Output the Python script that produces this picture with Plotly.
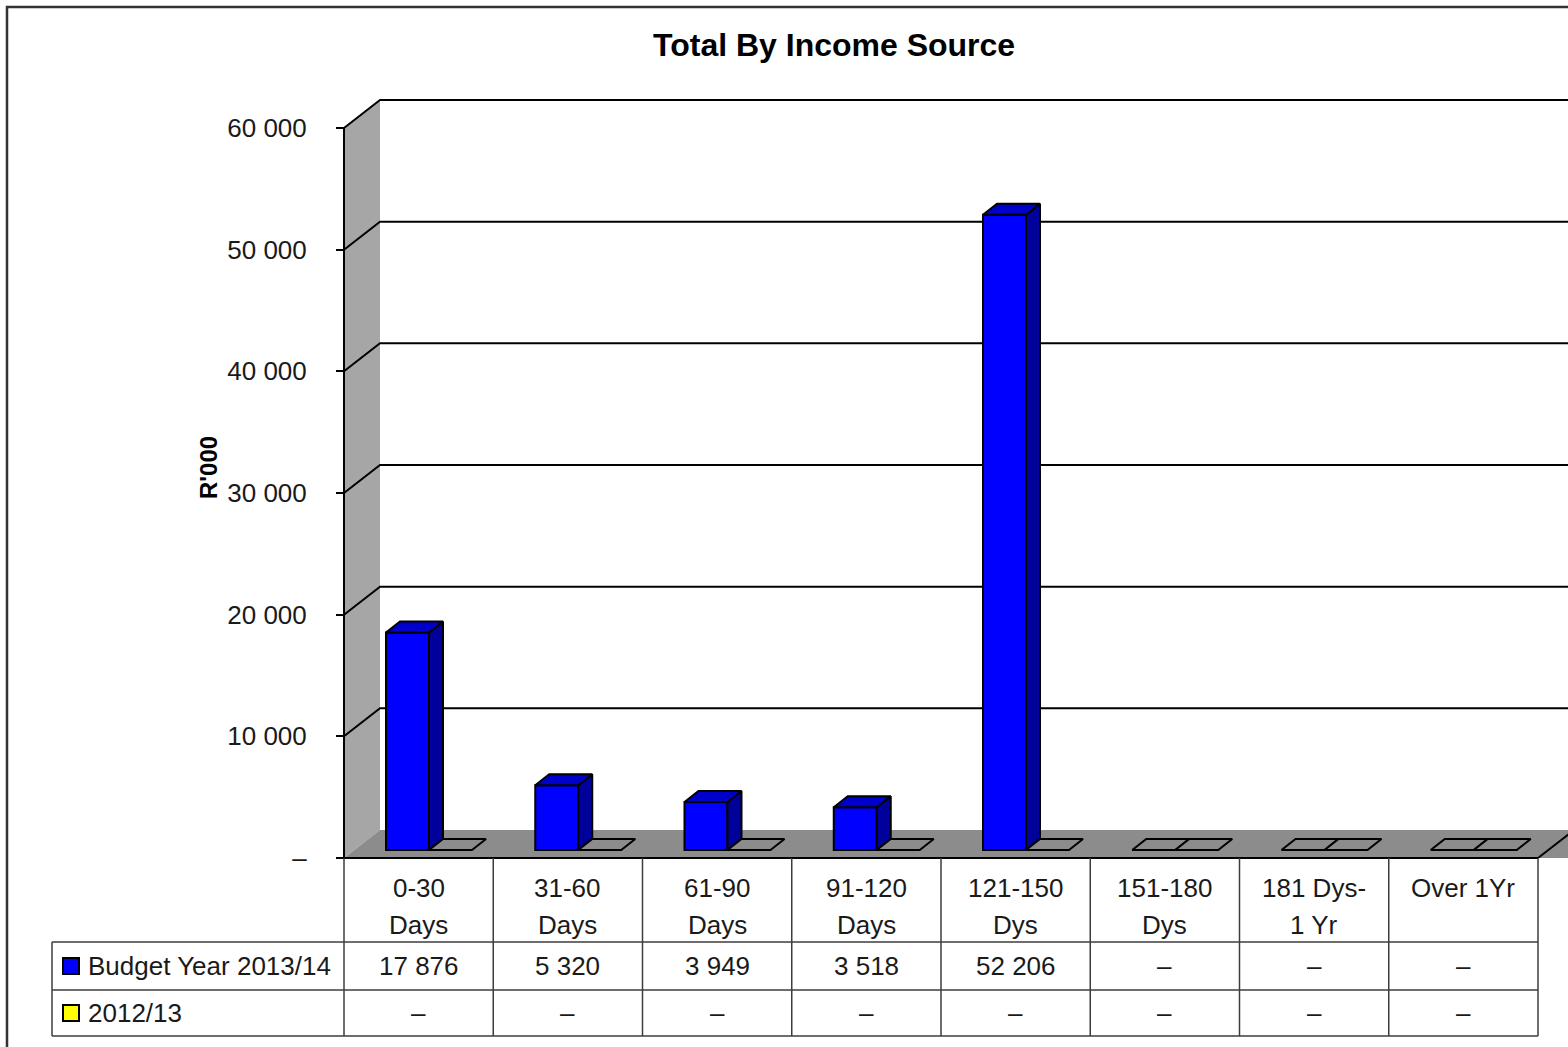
import plotly.graph_objects as go

# ---- data -------------------------------------------------------------
categories = ["0-30\nDays", "31-60\nDays", "61-90\nDays", "91-120\nDays",
              "121-150\nDys", "151-180\nDys", "181 Dys-\n1 Yr", "Over 1Yr"]
series_names = ["Budget Year 2013/14", "2012/13"]
budget_2013_14 = [17876, 5320, 3949, 3518, 52206, 0, 0, 0]
prior_2012_13 = [0, 0, 0, 0, 0, 0, 0, 0]
y_ticks = [0, 10000, 20000, 30000, 40000, 50000, 60000]
y_tick_labels = ["–", "10 000", "20 000", "30 000", "40 000", "50 000", "60 000"]

# ---- geometry (pixels) ------------------------------------------------
W, H = 1568, 1047
V_FIT = 1047 / 1044     # small vertical correction of the layout grid
ORIGIN_X = 344          # front left corner of the floor
FLOOR_Y = 858           # front edge of the floor
CAT_PX = 149.25         # width of one category column
PX_PER_UNIT = 730 / 60000
DEPTH_DX, DEPTH_DY = 36, 28   # perspective offset of the back wall
BAR_W = 43
BAR_OFFSETS = [42, 85]  # left edge of each series' bar inside a column
BAR_LIFT = 8            # bars stand slightly back on the floor
TOP_DX, TOP_DY = 14, 11 # bar depth

FONT = "Liberation Sans, Arial, sans-serif"
TXT = "#1a1a1a"
GRID = "black"
TABLE_LINE = "#3c3c3c"


def ux(p):
    return p / CAT_PX


def uy(p):
    return p / PX_PER_UNIT


def paper_x(p):
    return p / W


def paper_y(p):
    return 1 - p * V_FIT / H


def fmt(v):
    return "–" if v == 0 else f"{v:,}".replace(",", " ")


n = len(categories)
x_min, x_max = ux(-14), ux(W - ORIGIN_X)
y_min, y_max = uy(-12), uy(FLOOR_Y - 90)
dx, dy = ux(DEPTH_DX), uy(DEPTH_DY)
top_val = y_ticks[-1]

fig = go.Figure()

# ---- bars: front faces -------------------------------------------------
series = [
    (budget_2013_14, "#0000ff", "#0000cc", "#00009a"),
    (prior_2012_13, "#ffff00", "#cccc00", "#999900"),
]
floor_gray = "#8c8c8c"
base = uy(BAR_LIFT)
for s, (vals, front, topc, sidec) in enumerate(series):
    off = BAR_OFFSETS[s]
    fig.add_trace(go.Bar(
        x=[i + ux(off + BAR_W / 2) for i in range(n)],
        y=vals,
        base=[base] * n,
        width=ux(BAR_W),
        marker=dict(color=front, line=dict(color="black", width=2)),
        name=series_names[s],
        showlegend=False,
        hoverinfo="skip",
    ))

# ---- bars: top and side faces ------------------------------------------
tdx, tdy = ux(TOP_DX), uy(TOP_DY)
for s, (vals, front, topc, sidec) in enumerate(series):
    off = BAR_OFFSETS[s]
    top_x, top_y, flat_x, flat_y, side_x, side_y = [], [], [], [], [], []
    for i, v in enumerate(vals):
        x0 = i + ux(off)
        x1 = x0 + ux(BAR_W)
        t = base + v
        px = [x0, x1, x1 + tdx, x0 + tdx, x0, None]
        py = [t, t, t + tdy, t + tdy, t, None]
        if v > 0:
            top_x += px
            top_y += py
            side_x += [x1, x1, x1 + tdx, x1 + tdx, x1, None]
            side_y += [base, t, t + tdy, base + tdy, base, None]
        else:
            flat_x += px
            flat_y += py
    for xs, ys, col in [(side_x, side_y, sidec), (top_x, top_y, topc),
                        (flat_x, flat_y, floor_gray)]:
        if xs:
            fig.add_trace(go.Scatter(
                x=xs, y=ys, mode="lines", fill="toself", fillcolor=col,
                line=dict(color="black", width=2), showlegend=False,
                hoverinfo="skip",
            ))

# ---- walls, floor and gridlines ----------------------------------------
shapes = []
shapes.append(dict(type="path", xref="x", yref="y", layer="below",
                   path=f"M 0,0 L 0,{top_val} L {dx},{top_val + dy} L {dx},{dy} Z",
                   fillcolor="#a6a6a6", line=dict(width=0)))
shapes.append(dict(type="path", xref="x", yref="y", layer="below",
                   path=f"M 0,0 L {dx},{dy} L {n + dx + 1},{dy} L {n + 1},0 Z",
                   fillcolor=floor_gray, line=dict(width=0)))
shapes.append(dict(type="path", xref="x", yref="y", layer="below",
                   path=f"M {n},0 L {n + dx},{dy}",
                   line=dict(color="black", width=2)))
for v in y_ticks[1:]:
    shapes.append(dict(type="path", xref="x", yref="y", layer="below",
                       path=f"M 0,{v} L {dx},{v + dy} L {x_max + 1},{v + dy}",
                       line=dict(color=GRID, width=2)))
shapes.append(dict(type="path", xref="x", yref="y", layer="below",
                   path=f"M 0,0 L 0,{top_val}",
                   line=dict(color="black", width=2)))
shapes.append(dict(type="line", xref="x", yref="y", layer="below",
                   x0=0, y0=0, x1=n, y1=0,
                   line=dict(color="black", width=2)))

# ---- data table --------------------------------------------------------
TABLE_LEFT = 52
ROW_LINES = [942, 990, 1036]
TABLE_BOTTOM = 1036
for yl in ROW_LINES:
    shapes.append(dict(type="line", xref="paper", yref="paper",
                       x0=paper_x(TABLE_LEFT), x1=paper_x(ORIGIN_X + n * CAT_PX),
                       y0=paper_y(yl), y1=paper_y(yl),
                       line=dict(color=TABLE_LINE, width=1.5)))
shapes.append(dict(type="line", xref="paper", yref="paper",
                   x0=paper_x(TABLE_LEFT), x1=paper_x(TABLE_LEFT),
                   y0=paper_y(ROW_LINES[0]), y1=paper_y(TABLE_BOTTOM),
                   line=dict(color=TABLE_LINE, width=1.5)))
for k in range(n + 1):
    xp = paper_x(ORIGIN_X + k * CAT_PX)
    shapes.append(dict(type="line", xref="paper", yref="paper",
                       x0=xp, x1=xp, y0=paper_y(FLOOR_Y), y1=paper_y(TABLE_BOTTOM),
                       line=dict(color=TABLE_LINE, width=1.5)))

# legend keys inside the table
key_colors = ["#0000ff", "#ffff00"]
row_centers = [966, 1013]
for s in range(2):
    shapes.append(dict(type="rect", xref="paper", yref="paper",
                       x0=paper_x(63), x1=paper_x(79),
                       y0=paper_y(row_centers[s] - 8), y1=paper_y(row_centers[s] + 8),
                       fillcolor=key_colors[s], line=dict(color="black", width=2)))

# outer chart border
shapes.append(dict(type="rect", xref="paper", yref="paper",
                   x0=paper_x(7), x1=paper_x(W + 30), y0=paper_y(7), y1=paper_y(H + 30),
                   line=dict(color="#333333", width=2.5), fillcolor="rgba(0,0,0,0)"))

annotations = []
annotations.append(dict(text="<b>Total By Income Source</b>", xref="paper", yref="paper",
                        x=paper_x(834), y=paper_y(45), showarrow=False,
                        xanchor="center", yanchor="middle",
                        font=dict(family=FONT, size=32, color="black")))
annotations.append(dict(text="<b>R'000</b>", xref="paper", yref="paper",
                        x=paper_x(208), y=paper_y(468), showarrow=False, textangle=-90,
                        xanchor="center", yanchor="middle",
                        font=dict(family=FONT, size=24, color="black")))
for i, cat in enumerate(categories):
    for j, line in enumerate(cat.split("\n")):
        annotations.append(dict(text=line, xref="x", yref="paper",
                                x=i + 0.5, y=paper_y(888 + 37 * j), showarrow=False,
                                xanchor="center", yanchor="middle",
                                font=dict(family=FONT, size=26, color=TXT)))
for s, vals in enumerate([budget_2013_14, prior_2012_13]):
    annotations.append(dict(text=series_names[s], xref="paper", yref="paper",
                            x=paper_x(86), y=paper_y(row_centers[s]), showarrow=False,
                            xanchor="left", yanchor="middle",
                            font=dict(family=FONT, size=26, color=TXT)))
    for i, v in enumerate(vals):
        annotations.append(dict(text=fmt(v), xref="x", yref="paper",
                                x=i + 0.5, y=paper_y(row_centers[s]), showarrow=False,
                                xanchor="center", yanchor="middle",
                                font=dict(family=FONT, size=26, color=TXT)))

fig.update_layout(
    width=W, height=H,
    margin=dict(l=0, r=0, t=0, b=0),
    paper_bgcolor="white", plot_bgcolor="white",
    barmode="overlay",
    showlegend=False,
    shapes=shapes,
    annotations=annotations,
    xaxis=dict(domain=[paper_x(330), 1], range=[x_min, x_max], visible=False,
               fixedrange=True),
    yaxis=dict(domain=[paper_y(870), paper_y(90)], range=[y_min, y_max],
               anchor="free", position=paper_x(ORIGIN_X),
               tickvals=y_ticks, ticktext=y_tick_labels,
               ticks="outside", ticklen=8, tickwidth=2, tickcolor="black",
               ticklabelstandoff=24,
               showgrid=False, zeroline=False, showline=False,
               tickfont=dict(family=FONT, size=26, color=TXT),
               fixedrange=True),
)

fig.write_html("out.html")
